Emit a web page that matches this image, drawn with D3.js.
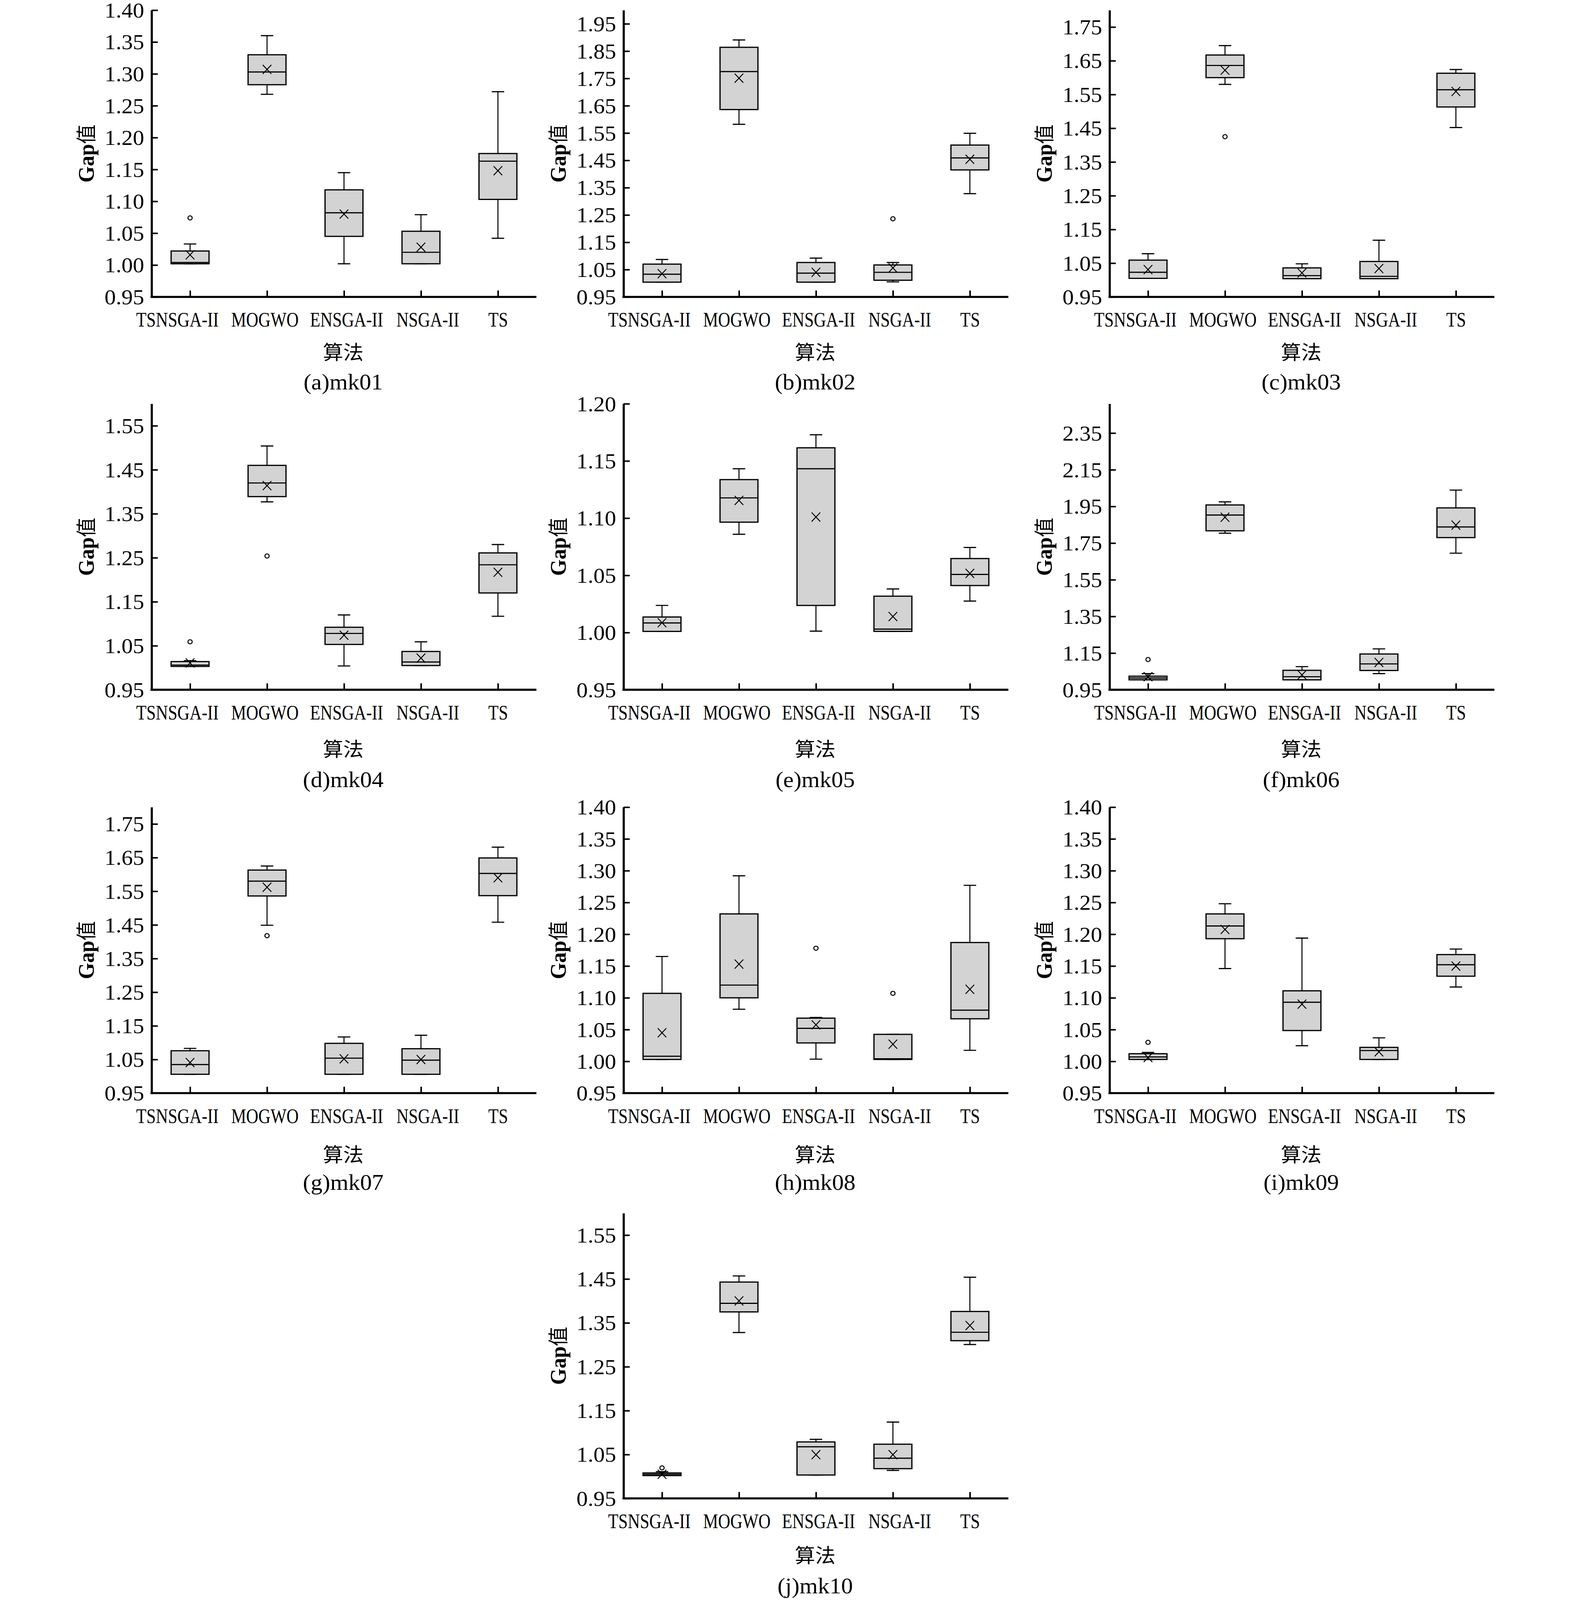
<!DOCTYPE html>
<html><head><meta charset="utf-8">
<script src="https://cdn.jsdelivr.net/npm/d3@7"></script>
<style>
html,body{margin:0;padding:0;background:#fff;overflow:hidden;width:100%;height:100%}
svg{display:block;width:100vw;height:100vh}
</style>
</head><body>
<script>
// ---------- DATA ----------
const algorithms = ["TSNSGA-II", "MOGWO", "ENSGA-II", "NSGA-II", "TS"];
const captions = ["(a)mk01","(b)mk02","(c)mk03","(d)mk04","(e)mk05","(f)mk06","(g)mk07","(h)mk08","(i)mk09","(j)mk10"];
const xTitle = "算法";
const yTitleLatin = "Gap";
const yTitleCJK = "值";

// each row: [min, q1, median, q3, max, mean, outliers]
const mk01 = [
  [1.002, 1.002, 1.004, 1.022, 1.033, 1.016, [1.074]],
  [1.268, 1.283, 1.303, 1.330, 1.360, 1.307, []],
  [1.002, 1.045, 1.082, 1.118, 1.145, 1.080, []],
  [1.002, 1.002, 1.020, 1.053, 1.079, 1.028, []],
  [1.042, 1.103, 1.163, 1.175, 1.272, 1.148, []]
];
const mk02 = [
  [1.004, 1.004, 1.033, 1.070, 1.087, 1.035, []],
  [1.582, 1.636, 1.775, 1.864, 1.891, 1.751, []],
  [1.004, 1.004, 1.037, 1.076, 1.092, 1.040, []],
  [1.005, 1.011, 1.040, 1.067, 1.076, 1.056, [1.236]],
  [1.328, 1.415, 1.459, 1.506, 1.549, 1.454, []]
];
const mk03 = [
  [1.005, 1.005, 1.023, 1.059, 1.078, 1.031, []],
  [1.580, 1.600, 1.636, 1.667, 1.695, 1.622, [1.425]],
  [1.004, 1.004, 1.013, 1.036, 1.048, 1.021, []],
  [1.004, 1.004, 1.011, 1.055, 1.118, 1.034, []],
  [1.452, 1.513, 1.564, 1.613, 1.624, 1.559, []]
];
const mk04 = [
  [1.003, 1.003, 1.006, 1.014, 1.016, 1.011, [1.059]],
  [1.377, 1.389, 1.420, 1.460, 1.504, 1.414, [1.254]],
  [1.004, 1.053, 1.078, 1.092, 1.120, 1.074, []],
  [1.005, 1.005, 1.013, 1.037, 1.059, 1.022, []],
  [1.117, 1.170, 1.234, 1.261, 1.280, 1.217, []]
];
const mk05 = [
  [1.001, 1.001, 1.0084, 1.0136, 1.0237, 1.0086, []],
  [1.0859, 1.0965, 1.1177, 1.1337, 1.1432, 1.1155, []],
  [1.0012, 1.0237, 1.1432, 1.1615, 1.1729, 1.101, []],
  [1.001, 1.001, 1.003, 1.0318, 1.0381, 1.014, []],
  [1.0275, 1.0411, 1.0508, 1.0647, 1.0744, 1.0517, []]
];
const mk06 = [
  [1.004, 1.004, 1.014, 1.024, 1.038, 1.021, [1.115]],
  [1.804, 1.817, 1.903, 1.958, 1.975, 1.891, []],
  [1.004, 1.004, 1.021, 1.056, 1.076, 1.031, []],
  [1.038, 1.055, 1.091, 1.145, 1.173, 1.099, []],
  [1.695, 1.780, 1.838, 1.942, 2.039, 1.848, []]
];
const mk07 = [
  [1.006, 1.006, 1.035, 1.076, 1.083, 1.041, []],
  [1.449, 1.536, 1.580, 1.613, 1.625, 1.562, [1.418]],
  [1.006, 1.006, 1.054, 1.098, 1.117, 1.052, []],
  [1.006, 1.006, 1.048, 1.082, 1.122, 1.050, []],
  [1.458, 1.537, 1.603, 1.649, 1.681, 1.590, []]
];
const mk08 = [
  [1.003, 1.003, 1.008, 1.107, 1.165, 1.045, []],
  [1.082, 1.100, 1.120, 1.232, 1.292, 1.153, []],
  [1.0035, 1.029, 1.052, 1.068, 1.069, 1.0575, [1.178]],
  [1.003, 1.003, 1.004, 1.0425, 1.0425, 1.027, [1.107]],
  [1.0173, 1.067, 1.0806, 1.187, 1.277, 1.1134, []]
];
const mk09 = [
  [1.003, 1.003, 1.007, 1.012, 1.014, 1.006, [1.030]],
  [1.146, 1.193, 1.213, 1.232, 1.248, 1.2075, []],
  [1.0246, 1.0485, 1.093, 1.111, 1.194, 1.090, []],
  [1.003, 1.003, 1.017, 1.022, 1.037, 1.015, []],
  [1.117, 1.134, 1.152, 1.168, 1.1767, 1.150, []]
];
const mk10 = [
  [1.002, 1.002, 1.005, 1.008, 1.011, 1.005, [1.0196]],
  [1.328, 1.375, 1.3946, 1.443, 1.457, 1.400, []],
  [1.0033, 1.0033, 1.0677, 1.0787, 1.0845, 1.0497, []],
  [1.0138, 1.0178, 1.0416, 1.0735, 1.124, 1.0497, []],
  [1.3007, 1.3094, 1.3286, 1.376, 1.454, 1.344, []]
];

const ticksA = [0.95, 1.00, 1.05, 1.10, 1.15, 1.20, 1.25, 1.30, 1.35, 1.40];
const ticksB = [0.95, 1.05, 1.15, 1.25, 1.35, 1.45, 1.55, 1.65, 1.75, 1.85, 1.95];
const ticksC = [0.95, 1.05, 1.15, 1.25, 1.35, 1.45, 1.55, 1.65, 1.75];
const ticksD = [0.95, 1.05, 1.15, 1.25, 1.35, 1.45, 1.55];
const ticksE = [0.95, 1.00, 1.05, 1.10, 1.15, 1.20];
const ticksF = [0.95, 1.15, 1.35, 1.55, 1.75, 1.95, 2.15, 2.35];
const ticksG = [0.95, 1.05, 1.15, 1.25, 1.35, 1.45, 1.55, 1.65, 1.75];
const ticksH = [0.95, 1.00, 1.05, 1.10, 1.15, 1.20, 1.25, 1.30, 1.35, 1.40];
const ticksI = [0.95, 1.00, 1.05, 1.10, 1.15, 1.20, 1.25, 1.30, 1.35, 1.40];
const ticksJ = [0.95, 1.05, 1.15, 1.25, 1.35, 1.45, 1.55];

const yMin = 0.95;
const yMax = [1.40, 2.00, 1.80, 1.60, 1.20, 2.51, 1.80, 1.40, 1.40, 1.60];

const panelData = [mk01, mk02, mk03, mk04, mk05, mk06, mk07, mk08, mk09, mk10];
const panelTicks = [ticksA, ticksB, ticksC, ticksD, ticksE, ticksF, ticksG, ticksH, ticksI, ticksJ];

// ---------- LAYOUT ----------
const W = 4016, H = 4252;
const colX = [388, 1596, 2840];
const rowTop = [27, 1073, 2145, 3224];
const rowBottom = [789, 1833, 2905, 3982];
const xTitleOff = [147, 158, 164, 152];
const captionOff = [226, 239, 237, 233];
const grid = [[0,0],[1,0],[2,0],[0,1],[1,1],[2,1],[0,2],[1,2],[2,2],[1,3]];
const plotW = 985;
const boxW = 97, capW = 32;
const labelShift = [-33, -6, 6, 17, 0];   // horizontal nudges of category labels

const serif = "'Liberation Serif', 'Times New Roman', serif";
const cjk = "'Noto Sans CJK SC', sans-serif";

const svg = d3.select("body").append("svg")
  .attr("viewBox", `0 0 ${W} ${H}`)
  .attr("preserveAspectRatio", "none")
  .style("background", "#fff");

panelData.forEach((data, i) => {
  const [c, r] = grid[i];
  const x0 = colX[c], top = rowTop[r], bottom = rowBottom[r];
  const g = svg.append("g").attr("transform", `translate(${x0},0)`);

  const x = d3.scalePoint().domain(algorithms).range([0, plotW]).padding(0.5);
  const y = d3.scaleLinear().domain([yMin, yMax[i]]).range([bottom, top]);

  data.forEach((d, k) => {
    const [mn, q1, med, q3, mx, mean, outl] = d;
    const cx = x(algorithms[k]);
    const bg = g.append("g");
    bg.append("line").attr("x1", cx).attr("x2", cx).attr("y1", y(q3)).attr("y2", y(mx))
      .attr("stroke", "#000").attr("stroke-width", 2.6);
    bg.append("line").attr("x1", cx).attr("x2", cx).attr("y1", y(q1)).attr("y2", y(mn))
      .attr("stroke", "#000").attr("stroke-width", 2.6);
    bg.append("line").attr("x1", cx - capW/2).attr("x2", cx + capW/2).attr("y1", y(mx)).attr("y2", y(mx))
      .attr("stroke", "#000").attr("stroke-width", 3);
    bg.append("line").attr("x1", cx - capW/2).attr("x2", cx + capW/2).attr("y1", y(mn)).attr("y2", y(mn))
      .attr("stroke", "#000").attr("stroke-width", 3);
    bg.append("rect").attr("x", cx - boxW/2).attr("width", boxW)
      .attr("y", y(q3)).attr("height", Math.max(1, y(q1) - y(q3)))
      .attr("fill", "#d3d3d3").attr("stroke", "#000").attr("stroke-width", 3.2);
    bg.append("line").attr("x1", cx - boxW/2).attr("x2", cx + boxW/2).attr("y1", y(med)).attr("y2", y(med))
      .attr("stroke", "#000").attr("stroke-width", 3);
    const my = y(mean);
    bg.append("path").attr("d", `M${cx-11},${my-12}L${cx+11},${my+12}M${cx+11},${my-12}L${cx-11},${my+12}`)
      .attr("stroke", "#000").attr("stroke-width", 2.4).attr("fill", "none");
    outl.forEach(o => {
      bg.append("circle").attr("cx", cx).attr("cy", y(o)).attr("r", 5.5)
        .attr("fill", "#fff").attr("stroke", "#000").attr("stroke-width", 2.6);
    });
  });

  // y axis
  const ya = g.append("g").call(
    d3.axisLeft(y).tickValues(panelTicks[i]).tickFormat(d3.format(".2f"))
      .tickSizeInner(-16).tickSizeOuter(0).tickPadding(19)
  );
  ya.select(".domain").attr("stroke-width", 5.5).attr("stroke", "#000");
  ya.selectAll(".tick line").attr("stroke-width", 4).attr("stroke", "#000");
  ya.selectAll(".tick text").attr("font-family", serif).attr("font-size", 58)
    .attr("fill", "#000").attr("dy", "0.33em");

  // x axis
  const xa = g.append("g").attr("transform", `translate(0,${bottom})`).call(
    d3.axisBottom(x).tickSizeInner(-17).tickSizeOuter(0).tickPadding(0)
  );
  xa.select(".domain").attr("stroke-width", 5.5).attr("stroke", "#000")
    .attr("d", `M-2.75,0H${plotW}`);
  xa.selectAll(".tick line").attr("stroke-width", 4).attr("stroke", "#000");
  xa.selectAll(".tick text").attr("font-family", serif).attr("font-size", 54)
    .attr("fill", "#000").attr("y", 79).attr("dy", 0)
    .attr("transform", (d, k) => `translate(${labelShift[k]},0) scale(0.8,1)`);

  // y title
  const yt = g.append("text")
    .attr("transform", `translate(-168,${(top + bottom) / 2}) rotate(-90)`)
    .attr("text-anchor", "middle").attr("dy", "0.35em")
    .attr("font-size", 56).attr("fill", "#000");
  yt.append("tspan").text(yTitleLatin).attr("font-family", serif).attr("font-weight", "bold");
  yt.append("tspan").text(yTitleCJK).attr("font-family", cjk).attr("font-size", 52);

  // x title
  g.append("text").attr("x", plotW / 2 - 2).attr("y", bottom + xTitleOff[r])
    .attr("dy", "0.36em").attr("text-anchor", "middle")
    .attr("font-family", cjk).attr("font-size", 52).attr("fill", "#000").text(xTitle);

  // caption
  g.append("text").attr("x", plotW / 2 - 2).attr("y", bottom + captionOff[r])
    .attr("dy", "0.33em").attr("text-anchor", "middle")
    .attr("font-family", serif).attr("font-size", 60).attr("fill", "#000").text(captions[i]);
});
</script>
</body></html>
